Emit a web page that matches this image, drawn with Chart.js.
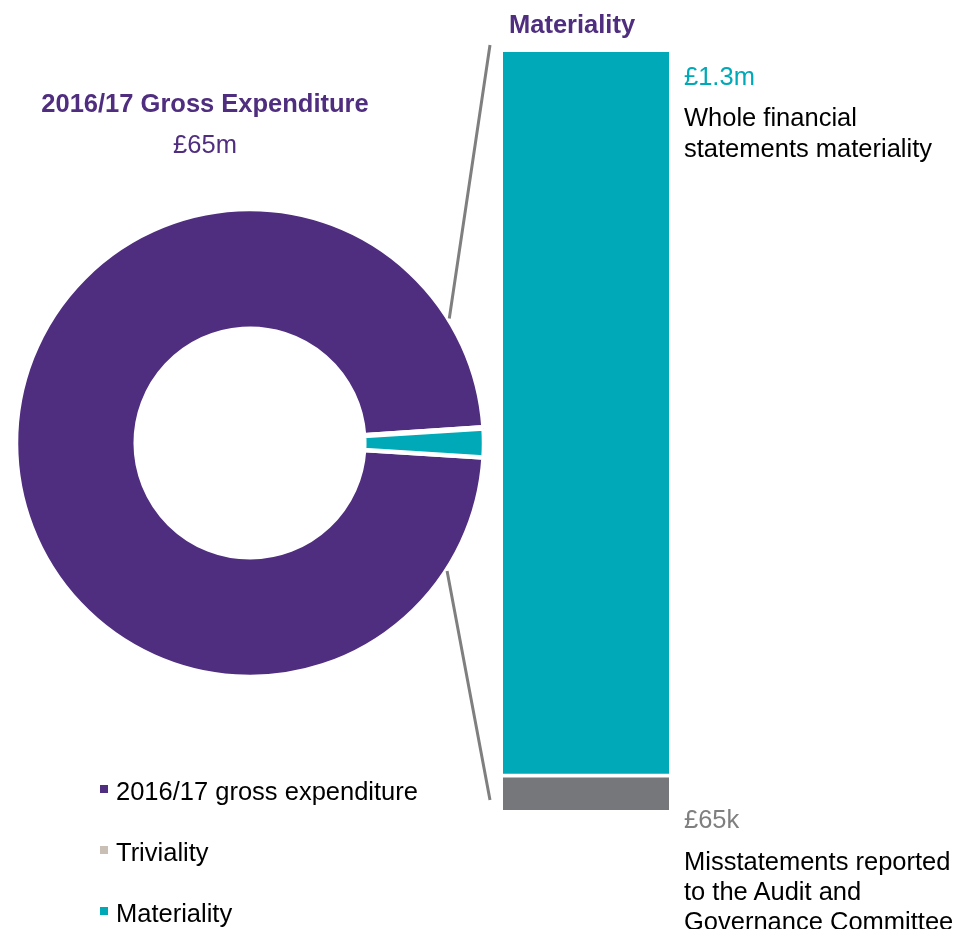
<!DOCTYPE html>
<html lang="en">
<head>
  <meta charset="UTF-8" />
  <title>Materiality</title>
  <script src="https://cdn.jsdelivr.net/npm/chart.js"></script>
  <style>
    body { margin: 0; background: #fff; font-family: 'Liberation Sans', Arial, sans-serif; }
    .page { position: relative; width: 959px; height: 929px; overflow: hidden; }
    canvas { position: absolute; left: 0; top: 0; }
    .txt { position: absolute; font-size: 25.5px; line-height: 31px; white-space: nowrap; color: #000; }
    .bold { font-weight: bold; color: #4f2d7f; }
    .legend-item { position: absolute; left: 100px; font-size: 25.5px; line-height: 31px; white-space: nowrap; }
    .legend-item span { position: absolute; left: 0; top: 9px; width: 8px; height: 8px; }
    .legend-item b { font-weight: normal; position: absolute; left: 16px; top: 0; }
  </style>
</head>
<body>
  <div class="page">
    <canvas id="donut" width="500" height="886"></canvas>
    <canvas id="bar" width="959" height="929" style="pointer-events:none"></canvas>

    <div class="txt bold" style="left:509px; top:9px">Materiality</div>
    <div class="txt bold" style="left:5px; width:400px; text-align:center; top:88px">2016/17 Gross Expenditure</div>
    <div class="txt" style="left:5px; width:400px; text-align:center; top:129px; color:#4f2d7f">£65m</div>

    <div class="txt" style="left:684px; top:61px; color:#00a9b7">£1.3m</div>
    <div class="txt" style="left:684px; top:102px">Whole financial<br>statements materiality</div>

    <div class="txt" style="left:684px; top:804px; color:#7f7f7f">£65k</div>
    <div class="txt" style="left:684px; top:846px; line-height:30px">Misstatements reported<br>to the Audit and<br>Governance Committee</div>

    <div id="legend"></div>
  </div>

  <script>
    // values in £m
    const donutLabels = ["2016/17 gross expenditure", "Triviality", "Materiality"];
    const donutValues = [65, 0.065, 1.3];
    const donutColors = ["#4f2d7f", "#c9bfb4", "#00a9b7"];

    const barLabels = ["Triviality", "Materiality"];
    const barValues = [0.065, 1.3];
    const barColors = ["#76777a", "#00a9b7"];

    // teal slice centred on 3 o'clock
    const total = donutValues.reduce((a, b) => a + b, 0);
    const tealDeg = donutValues[2] / total * 360;

    const donutChart = new Chart(document.getElementById("donut"), {
      type: "doughnut",
      data: {
        labels: donutLabels,
        datasets: [{
          data: donutValues,
          backgroundColor: donutColors,
          borderColor: "#fff",
          borderWidth: 4.5
        }]
      },
      options: {
        responsive: false,
        animation: false,
        radius: 234,
        cutout: 121,
        rotation: 90 + tealDeg / 2,
        plugins: { legend: { display: false }, tooltip: { enabled: false } }
      }
    });

    const connectors = {
      id: "connectors",
      afterDraw(chart) {
        const ctx = chart.ctx;
        const bars = chart.getDatasetMeta(1).data[0];
        const low = chart.getDatasetMeta(0).data[0];
        const arc = donutChart.getDatasetMeta(0).data[0];
        const r = 235;
        const left = bars.x - bars.width / 2;
        ctx.save();
        ctx.strokeStyle = "#7f7f7f";
        ctx.lineWidth = 3;
        ctx.beginPath();
        ctx.moveTo(left - 13, bars.y - 7);
        ctx.lineTo(arc.x + r * Math.cos(-32 * Math.PI / 180), arc.y + r * Math.sin(-32 * Math.PI / 180));
        ctx.moveTo(arc.x + r * Math.cos(33 * Math.PI / 180), arc.y + r * Math.sin(33 * Math.PI / 180));
        ctx.lineTo(left - 13, low.base - 10);
        ctx.stroke();
        ctx.restore();
      }
    };

    new Chart(document.getElementById("bar"), {
      type: "bar",
      data: {
        labels: ["Materiality"],
        datasets: barLabels.map((l, i) => ({
          label: l,
          data: [barValues[i]],
          backgroundColor: barColors[i],
          borderColor: "#fff",
          borderWidth: i === 0 ? { top: 4 } : 0,
          borderSkipped: false,
          categoryPercentage: 1,
          barPercentage: 1
        }))
      },
      options: {
        responsive: false,
        animation: false,
        layout: { padding: { left: 503, right: 290, top: 52, bottom: 119 } },
        scales: {
          x: { stacked: true, display: false },
          y: { stacked: true, display: false, min: 0, max: barValues.reduce((a, b) => a + b, 0) }
        },
        plugins: { legend: { display: false }, tooltip: { enabled: false } }
      },
      plugins: [connectors]
    });

    const legend = document.getElementById("legend");
    const legendTops = [776, 837, 898];
    donutLabels.forEach((l, i) => {
      const d = document.createElement("div");
      d.className = "legend-item";
      d.style.top = legendTops[i] + "px";
      d.innerHTML = `<span style="background:${donutColors[i]}"></span><b>${l}</b>`;
      legend.appendChild(d);
    });
  </script>
</body>
</html>
